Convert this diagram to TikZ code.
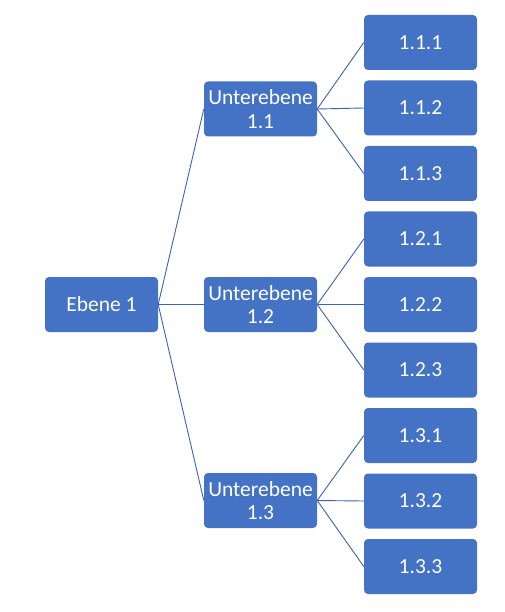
\documentclass[tikz,border=0pt]{standalone}
\usepackage{fontspec}
\setmainfont{Carlito}
\usepackage{tikz}
\usetikzlibrary{positioning}
\definecolor{boxblue}{HTML}{4472C4}
\definecolor{lineblue}{HTML}{3A62AE}
\tikzset{
  levelbox/.style={fill=boxblue,draw=none,rounded corners=4pt,text=white,
    minimum width=113pt,minimum height=55pt,inner sep=1pt,align=center,
    font=\fontsize{21.5}{23.5}\selectfont},
  branch/.style={draw=lineblue,line width=0.9pt}
}

\begin{document}
\begin{tikzpicture}[x=1pt,y=-1pt]
  \useasboundingbox (0,0) rectangle (505,612);
  % Root
  \node[levelbox] (ebene) at (101.5,304.5) {Ebene 1};
  % Second level
  \foreach \i/\y in {1/109,2/304.5,3/500.5} {
    \node[levelbox] (ue\i) at (260.5,\y) {Unterebene\\1.\i};
    \draw[branch] (ebene.east) -- (ue\i.west);
  }
  % Leaves
  \foreach \i in {1,2,3} {
    \foreach \j in {1,2,3} {
      \pgfmathsetmacro{\yy}{42.5+65.5*(3*(\i-1)+\j-1)}
      \node[levelbox] (leaf\i\j) at (420.5,\yy) {1.\i.\j};
      \draw[branch] (ue\i.east) -- (leaf\i\j.west);
    }
  }
\end{tikzpicture}
\end{document}
